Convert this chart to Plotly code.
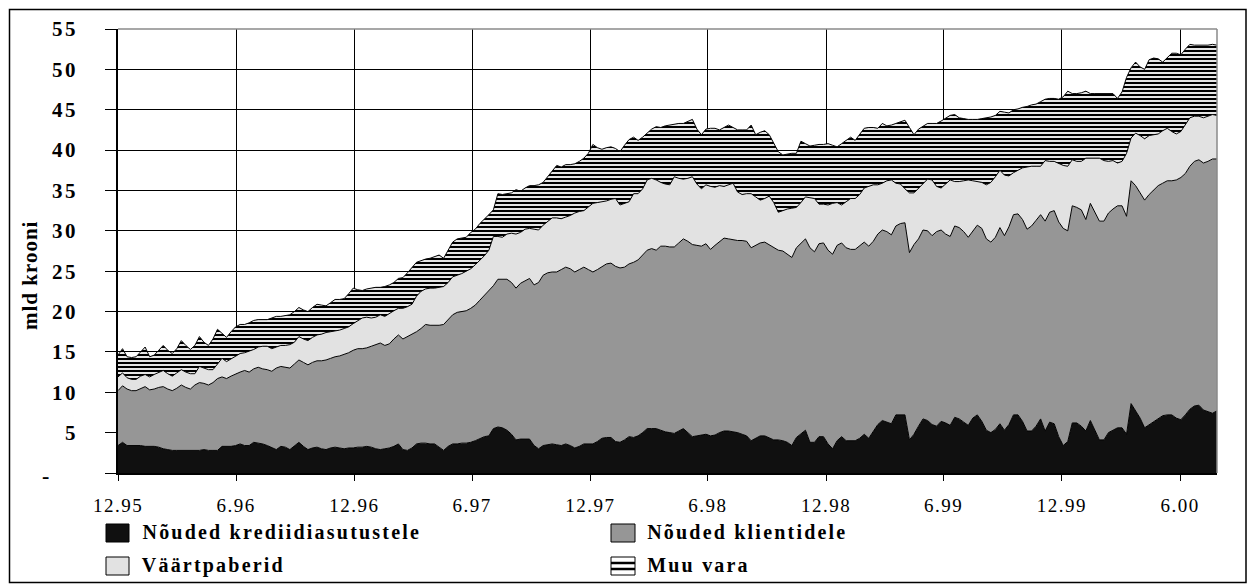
import pandas as pd
import plotly.graph_objects as go

# weekly observations, first week of Dec 1995 to end of Jul 2000
dates = pd.date_range("1995-12-01", periods=244, freq="7D")

tick_dates = ["1995-12-01", "1996-06-01", "1996-12-01", "1997-06-01", "1997-12-01",
              "1998-06-01", "1998-12-01", "1999-06-01", "1999-12-01", "2000-06-01"]
tick_labels = ["12.95", "6.96", "12.96", "6.97", "12.97", "6.98", "12.98", "6.99", "12.99", "6.00"]

y_ticks = [0, 5, 10, 15, 20, 25, 30, 35, 40, 45, 50, 55]
y_labels = ["", "5", "10", "15", "20", "25", "30", "35", "40", "45", "50", "55"]

series_names = ["Nõuded krediidiasutustele", "Nõuded klientidele", "Väärtpaberid", "Muu vara"]
series_colors = ["#101010", "#969696", "#e2e2e2", "white"]

# Nõuded krediidiasutustele (bottom layer), mld krooni
krediidiasutustele = [
    3.4, 3.8, 3.4, 3.4, 3.4, 3.4, 3.3, 3.3, 3.3, 3.2,
    3.0, 2.9, 2.8, 2.8, 2.8, 2.8, 2.8, 2.8, 2.8, 2.9,
    2.8, 2.8, 2.8, 3.3, 3.3, 3.3, 3.4, 3.6, 3.4, 3.4,
    3.8, 3.7, 3.6, 3.4, 3.1, 2.9, 3.3, 3.2, 2.9, 3.3,
    3.8, 3.3, 2.9, 3.1, 3.2, 3.0, 2.9, 3.1, 3.2, 3.1,
    3.0, 3.1, 3.1, 3.2, 3.2, 3.3, 3.2, 3.0, 2.9, 3.0,
    3.1, 3.3, 3.6, 2.9, 2.8, 3.1, 3.6, 3.7, 3.7, 3.6,
    3.6, 3.2, 2.8, 3.3, 3.6, 3.6, 3.7, 3.7, 3.8, 4.0,
    4.3, 4.5, 4.6, 5.5, 5.7, 5.6, 5.3, 4.8, 4.1, 4.2,
    4.2, 4.2, 3.4, 3.0, 3.4, 3.5, 3.6, 3.5, 3.4, 3.6,
    3.4, 3.1, 3.3, 3.6, 3.6, 3.6, 3.9, 4.3, 4.4, 4.4,
    3.9, 3.8, 4.1, 4.5, 4.4, 4.6, 5.0, 5.5, 5.5, 5.5,
    5.3, 5.1, 5.0, 4.9, 5.2, 5.5, 5.0, 4.5, 4.6, 4.7,
    4.8, 4.6, 4.7, 5.0, 5.2, 5.2, 5.1, 5.0, 4.8, 4.6,
    4.0, 4.3, 4.6, 4.6, 4.3, 4.1, 4.1, 4.0, 3.8, 3.4,
    4.4, 4.9, 5.3, 3.8, 3.8, 4.5, 4.5, 3.6, 3.0, 4.0,
    4.5, 4.0, 4.0, 4.0, 4.3, 4.8, 4.3, 5.1, 6.0, 6.5,
    6.3, 6.1, 7.2, 7.2, 7.2, 4.1, 4.8, 5.8, 6.7, 6.5,
    6.0, 5.8, 6.4, 6.2, 5.9, 6.9, 6.7, 6.3, 5.9, 6.8,
    7.2, 6.4, 5.3, 5.0, 5.4, 6.1, 5.3, 6.0, 7.2, 7.2,
    6.4, 5.2, 5.2, 5.8, 6.7, 5.2, 6.3, 6.1, 4.5, 3.4,
    3.9, 6.2, 6.2, 5.8, 5.2, 6.5, 5.3, 4.1, 4.1, 5.0,
    5.3, 5.6, 5.6, 4.8, 8.6, 7.7, 6.8, 5.6, 6.0, 6.4,
    6.8, 7.1, 7.2, 7.2, 6.8, 6.6, 7.2, 7.9, 8.3, 8.4,
    7.8, 7.6, 7.4, 7.7,
]

# cumulative level: krediidiasutustele + klientidele
kuni_klientidele = [
    10.2, 10.8, 10.4, 10.2, 10.2, 10.5, 10.7, 10.3, 10.4, 10.6,
    10.7, 10.4, 10.2, 10.5, 10.9, 10.6, 10.4, 10.9, 11.2, 11.1,
    10.9, 11.2, 11.7, 11.9, 11.7, 12.0, 12.3, 12.5, 12.7, 12.5,
    12.9, 13.1, 12.9, 12.8, 12.6, 13.0, 13.2, 13.1, 13.0, 13.5,
    14.0, 13.7, 13.4, 13.7, 13.9, 13.9, 14.0, 14.2, 14.4, 14.5,
    14.7, 14.9, 15.2, 15.4, 15.4, 15.5, 15.7, 15.9, 16.1, 15.8,
    16.0, 16.6, 17.1, 16.6, 16.9, 17.1, 17.5, 17.9, 18.4, 18.3,
    18.3, 18.3, 18.4, 19.0, 19.6, 19.9, 20.0, 20.1, 20.4, 20.8,
    21.4, 22.0, 22.5, 23.2, 24.0, 24.0, 24.0, 23.6, 22.9, 23.5,
    23.8, 24.1, 23.3, 23.6, 24.5, 24.8, 24.9, 24.9, 25.2, 25.5,
    25.3, 24.9, 25.2, 25.5, 25.2, 24.9, 25.2, 25.6, 25.9, 26.0,
    25.6, 25.4, 25.5, 25.9, 26.1, 26.4, 27.0, 27.6, 27.8, 27.6,
    28.1, 28.1, 28.0, 28.0, 28.5, 29.0, 28.7, 28.3, 28.2, 28.1,
    28.4, 27.7, 28.2, 28.7, 29.1, 29.0, 28.9, 28.8, 28.8, 28.7,
    27.9, 28.2, 28.5, 28.6, 28.3, 27.9, 27.6, 27.5, 27.1, 26.7,
    27.9, 28.5, 29.0, 27.9, 27.4, 28.4, 28.5, 27.6, 27.1, 28.2,
    28.5, 27.9, 27.7, 27.7, 28.1, 28.6, 28.1, 28.7, 29.6, 30.1,
    29.9, 29.5, 30.6, 30.9, 31.0, 27.3, 28.3, 29.0, 30.1, 30.0,
    29.4, 29.9, 30.1, 29.6, 29.3, 30.6, 30.4, 29.9, 29.2, 29.9,
    30.7, 30.3, 29.0, 28.6, 29.2, 30.4, 29.4, 30.5, 32.0, 32.1,
    31.4, 30.2, 30.6, 31.3, 32.0, 31.2, 32.3, 32.5, 31.1, 30.3,
    30.0, 33.1, 32.9, 32.6, 31.4, 33.4, 32.3, 31.2, 31.2, 32.2,
    32.7, 33.1, 33.1, 31.8, 36.2, 35.6, 34.7, 33.8, 34.5, 35.1,
    35.6, 35.9, 36.2, 36.2, 36.3, 36.6, 37.1, 38.0, 38.6, 38.8,
    38.4, 38.6, 38.9, 38.9,
]

# cumulative level: ... + väärtpaberid
kuni_vaartpaberid = [
    11.9, 12.4, 11.8, 11.6, 11.6, 12.0, 12.2, 11.9, 12.2, 12.5,
    12.7, 12.3, 12.0, 12.4, 12.8, 12.5, 12.3, 12.3, 13.2, 13.0,
    12.8, 12.8, 13.5, 14.2, 13.8, 14.1, 14.5, 14.8, 14.9, 15.1,
    15.3, 15.6, 15.7, 15.7, 15.4, 15.6, 15.8, 15.8, 15.9, 16.2,
    16.9, 16.6, 16.4, 16.8, 17.1, 17.2, 17.4, 17.5, 17.6, 17.7,
    17.9, 18.1, 18.5, 18.9, 19.2, 19.3, 19.2, 19.3, 19.6, 19.4,
    19.8, 20.1, 20.4, 20.4, 20.6, 20.9, 21.9, 22.5, 22.8, 22.9,
    22.9, 23.0, 23.1, 23.6, 24.3, 24.5, 24.7, 25.0, 25.3, 25.8,
    26.3, 26.9, 27.6, 29.3, 29.3, 29.2, 29.6, 29.7, 29.6, 29.8,
    30.2, 30.3, 30.2, 30.1, 30.7, 31.2, 31.6, 31.6, 31.5, 31.7,
    31.9, 32.2, 32.4, 32.5, 32.9, 33.4, 33.5, 33.6, 33.7, 33.9,
    34.0, 33.2, 33.4, 33.6, 34.6, 34.6, 35.2, 36.3, 36.5, 36.3,
    36.0, 35.8, 35.7, 36.7, 36.5, 36.4, 36.5, 36.7, 35.8, 35.2,
    35.7, 35.5, 35.4, 35.6, 35.5, 35.7, 35.9, 34.8, 34.5, 34.6,
    34.6, 34.2, 33.8, 34.0, 34.3, 33.5, 32.3, 32.5, 32.7, 32.8,
    32.9, 33.5, 34.2, 34.1, 34.0, 33.3, 33.3, 33.2, 33.4, 33.5,
    33.2, 33.6, 34.0, 34.0, 34.5, 35.3, 35.5, 35.7, 35.7, 35.9,
    36.2, 36.3, 35.9, 35.8, 35.2, 34.7, 34.7, 35.3, 35.9, 36.4,
    36.3, 35.5, 35.3, 35.8, 36.3, 36.1, 36.1, 36.2, 36.3, 36.2,
    36.1, 36.0, 35.7, 36.0, 36.7, 37.5, 36.9, 36.8, 37.2, 37.5,
    37.8, 37.9, 38.0, 38.0, 38.0, 38.7, 38.6, 38.6, 38.3, 38.1,
    38.0, 38.8, 38.6, 38.6, 39.0, 39.0, 39.0, 39.0, 38.7, 38.6,
    38.7, 38.4, 38.6, 39.6, 41.5, 42.1, 41.8, 41.4, 41.8, 41.9,
    42.0, 42.4, 42.7, 42.3, 42.0, 42.3, 43.2, 44.0, 44.2, 44.2,
    44.0, 44.2, 44.4, 44.3,
]

# total assets (top of the stack)
koguvara = [
    14.6, 15.4, 14.4, 14.3, 14.4, 15.0, 15.6, 14.4, 14.6, 15.2,
    15.8, 15.2, 14.8, 15.4, 16.4, 15.8, 15.3, 15.8, 16.9, 16.2,
    15.8, 16.6, 17.8, 17.3, 16.8, 17.5, 18.1, 18.4, 18.4, 18.6,
    18.9, 19.0, 19.0, 19.0, 19.2, 19.4, 19.4, 19.5, 19.6, 20.0,
    20.5, 20.2, 20.0, 20.5, 20.9, 20.8, 20.7, 21.1, 21.5, 21.5,
    21.6, 22.2, 22.9, 22.7, 22.6, 22.8, 22.9, 23.0, 23.0, 23.1,
    23.3, 23.6, 24.1, 24.2, 24.8, 25.5, 26.1, 26.3, 26.5, 26.6,
    26.8, 27.0, 26.6, 27.6, 28.6, 29.0, 29.1, 29.2, 29.8, 30.2,
    30.9, 31.4, 32.0, 32.6, 34.6, 34.5, 34.6, 34.7, 35.1, 34.9,
    35.3, 35.6, 35.6, 35.7, 36.0, 36.7, 37.5, 38.1, 37.9, 38.2,
    38.2, 38.3, 38.6, 39.0, 39.6, 40.7, 40.3, 40.1, 40.3, 40.4,
    40.2, 39.8, 40.6, 41.3, 41.6, 41.2, 41.6, 42.1, 42.6, 42.9,
    42.8, 43.0, 43.1, 43.2, 43.3, 43.3, 43.6, 43.8, 42.6, 41.9,
    42.6, 42.7, 42.7, 42.5, 42.8, 43.1, 42.8, 42.5, 42.5, 42.5,
    43.1, 41.9, 42.2, 42.4, 41.9, 40.8, 39.8, 39.4, 39.5, 39.6,
    39.6, 41.1, 40.8, 40.5, 40.6, 40.7, 40.7, 40.8, 40.6, 40.4,
    40.8, 41.2, 41.6, 41.2, 42.0, 42.7, 42.8, 42.8, 42.7, 43.3,
    43.0, 43.1, 43.3, 43.5, 43.7, 42.8, 41.9, 42.6, 43.0, 43.3,
    43.3, 43.3, 43.6, 44.0, 44.3, 44.4, 44.0, 43.9, 43.8, 43.8,
    43.8, 43.9, 44.0, 44.1, 44.3, 44.8, 44.7, 44.6, 45.0, 45.1,
    45.3, 45.4, 45.6, 45.7, 46.0, 46.3, 46.4, 46.4, 46.3, 46.6,
    47.3, 47.0, 47.0, 47.1, 47.3, 47.0, 47.0, 47.0, 47.0, 47.0,
    47.0, 46.4, 47.2, 49.0, 50.2, 50.9, 50.3, 50.0, 51.2, 51.4,
    51.3, 50.9, 51.5, 52.0, 52.0, 51.8, 52.5, 53.1, 53.0, 53.0,
    53.0, 53.0, 53.1, 53.0,
]

# component values derived from the cumulative levels
klientidele = [round(a - b, 2) for a, b in zip(kuni_klientidele, krediidiasutustele)]
vaartpaberid = [round(a - b, 2) for a, b in zip(kuni_vaartpaberid, kuni_klientidele)]
muu_vara = [round(a - b, 2) for a, b in zip(koguvara, kuni_vaartpaberid)]

SERIF = "Liberation Serif, Times New Roman, serif"
LEG_SPACING = 2.2  # px letter spacing of legend labels

fig = go.Figure()
for name, vals, col in zip(series_names, [krediidiasutustele, klientidele, vaartpaberid, muu_vara],
                           series_colors):
    kw = {}
    if name == "Muu vara":
        kw["fillpattern"] = dict(shape="-", fgcolor="black", bgcolor="white",
                                 fgopacity=1, size=4, solidity=0.55)
    fig.add_trace(go.Scatter(x=dates, y=vals, name=name, stackgroup="a", mode="lines",
                             line=dict(color="black", width=1), fillcolor=col,
                             showlegend=False, **kw))

# plot area: x 118..1217, y 29..473 (pixels)
W, H = 1248, 584
L, R, T, B = 118, 1217, 29, 473
pw, ph = R - L, B - T

def px(x):
    return (x - L) / pw

def py(y):
    return (B - y) / ph

fig.update_layout(
    width=W, height=H,
    margin=dict(l=L, r=W - R, t=T, b=H - B, autoexpand=False),
    paper_bgcolor="white", plot_bgcolor="white",
    showlegend=False,
    hovermode=False,
)

fig.update_xaxes(
    type="date", range=[dates[0], dates[-1]],
    tickmode="array", tickvals=tick_dates, ticktext=tick_labels,
    ticks="outside", ticklen=6, tickcolor="black", tickwidth=1,
    showgrid=True, gridcolor="black", gridwidth=1,
    showline=True, linecolor="black", linewidth=2,
    zeroline=False,
    tickfont=dict(family=SERIF, size=19, color="black"),
    ticklabelstandoff=8,
)
fig.update_yaxes(
    range=[0, 55], tickmode="array", tickvals=y_ticks, ticktext=y_labels,
    ticks="outside", ticklen=11, tickcolor="black", tickwidth=1,
    showgrid=True, gridcolor="black", gridwidth=1,
    showline=True, linecolor="black", linewidth=1.5,
    zeroline=False,
    tickfont=dict(family=SERIF, size=21, color="black", weight="bold"),
    ticklabelstandoff=23,
)

# zero label shown as a dash, y-axis title
fig.add_annotation(text="-", xref="paper", yref="y", x=px(45), y=0, yshift=-2,
                   xanchor="center", yanchor="middle", showarrow=False,
                   font=dict(family=SERIF, size=22, color="black", weight="bold"))
fig.add_annotation(text="mld krooni", xref="paper", yref="paper", x=px(30), y=py(275),
                   xanchor="center", yanchor="middle", textangle=-90, showarrow=False,
                   font=dict(family=SERIF, size=21, color="black", weight="bold"))

# legend drawn as boxes + labels, two columns, two rows
leg_boxes = [(106, 129, 524, 542), (611, 635, 524, 542), (106, 129, 557, 575), (611, 635, 557, 575)]
leg_text_pos = [(140, 532), (645, 532), (140, 565), (645, 565)]
for name, col, (x0, x1, y0, y1), (tx, ty) in zip(series_names, series_colors, leg_boxes, leg_text_pos):
    fig.add_shape(type="rect", xref="paper", yref="paper", x0=px(x0), x1=px(x1),
                  y0=py(y1), y1=py(y0), fillcolor=col, line=dict(color="black", width=1),
                  layer="above")
    if name == "Muu vara":
        for sy in (563.0, 569.0):
            fig.add_shape(type="line", xref="paper", yref="paper", x0=px(x0), x1=px(x1),
                          y0=py(sy), y1=py(sy), line=dict(color="black", width=2.5),
                          layer="above")
    # letter spacing is added around the centred text, so shift by half of it
    fig.add_annotation(text=name, xref="paper", yref="paper", x=px(tx), y=py(ty),
                       xanchor="left", yanchor="middle", showarrow=False,
                       xshift=len(name) * LEG_SPACING / 2,
                       font=dict(family=SERIF, size=20, color="black", weight="bold"))

# gray top/right plot border and the outer chart frame
fig.add_shape(type="line", xref="paper", yref="paper", x0=0, x1=1, y0=1, y1=1,
              line=dict(color="#8a8a8a", width=1.5), layer="above")
fig.add_shape(type="line", xref="paper", yref="paper", x0=1, x1=1, y0=0, y1=1,
              line=dict(color="#8a8a8a", width=1.5), layer="above")
fig.add_shape(type="rect", xref="paper", yref="paper",
              x0=px(9.5), x1=px(1246), y0=py(582.5), y1=py(9.5),
              line=dict(color="black", width=1.5), fillcolor="rgba(0,0,0,0)", layer="above")

post = """
document.body.style.margin = '0';
document.body.style.padding = '0';
var gd = document.getElementById('{plot_id}');
var legendNames = %s;
function spacing(){
  gd.querySelectorAll('.annotation-text').forEach(function(t){
    var s = t.textContent;
    if (legendNames.indexOf(s) >= 0) { t.style.letterSpacing = '%spx'; }
    else if (s === 'mld krooni') { t.style.letterSpacing = '1px'; }
  });
  gd.querySelectorAll('.xtick text').forEach(function(t){ t.style.letterSpacing = '1.5px'; });
  gd.querySelectorAll('.ytick text').forEach(function(t){ t.style.letterSpacing = '2.5px'; });
}
spacing();
if (gd.on) { gd.on('plotly_afterplot', spacing); }
""" % (str(series_names).replace("'", '"'), LEG_SPACING)

fig.write_html("out.html", post_script=post, config={"displayModeBar": False})
